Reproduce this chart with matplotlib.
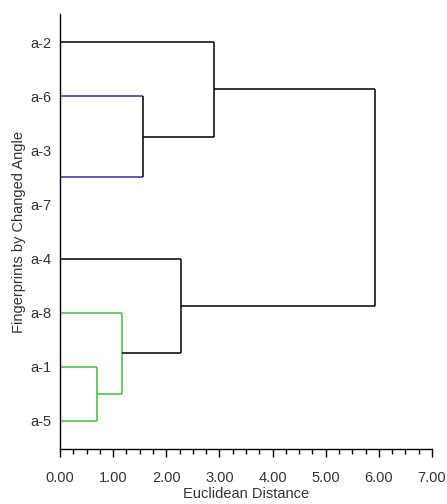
import matplotlib.pyplot as plt
from matplotlib.ticker import MultipleLocator

plt.rcParams['font.family'] = ['Liberation Sans', 'DejaVu Sans']

# leaves, top to bottom
labels = ['a-2', 'a-6', 'a-3', 'a-7', 'a-4', 'a-8', 'a-1', 'a-5']

# merges: (left child, right child, distance); children are leaf names or merge ids
merge_ids = ['m0', 'm1', 'm2', 'm3', 'm4', 'm5', 'm6']
merge_left = ['a-3', 'a-6', 'a-2', 'a-1', 'a-8', 'a-4', 'm2']
merge_right = ['a-7', 'm0', 'm1', 'a-5', 'm3', 'm4', 'm5']
merge_dist = [0.00, 1.57, 2.90, 0.70, 1.16, 2.27, 5.93]

# colours of the arms and of the vertical joint for each merge
blue = '#2e2e9a'
green = '#3fbf3f'
arm_color = [blue, blue, 'black', green, green, 'black', 'black']
joint_color = [blue, 'black', 'black', green, green, 'black', 'black']

fs = 10.5

fig = plt.figure(figsize=(4.47, 5.04), dpi=100)
ax = fig.add_axes([0.1342, 0.1091, 0.8322, 0.8631])

# node positions
pos = {lab: (0.0, i) for i, lab in enumerate(labels)}
for mid, l, r, d, ac, jc in zip(merge_ids, merge_left, merge_right, merge_dist,
                                arm_color, joint_color):
    xl, yl = pos[l]
    xr, yr = pos[r]
    ax.plot([xl, d], [yl, yl], color=ac, lw=1.1, solid_capstyle='butt')
    ax.plot([xr, d], [yr, yr], color=ac, lw=1.1, solid_capstyle='butt')
    ax.plot([d, d], [yl, yr], color=jc, lw=1.1, solid_capstyle='butt')
    pos[mid] = (d, (yl + yr) / 2)

ax.set_xlim(0, 7)
ax.set_ylim(7.52, -0.52)
ax.set_yticks(range(len(labels)))
ax.set_yticklabels(labels, fontsize=fs, color='#333333')
ax.tick_params(axis='y', length=0, pad=6)

ax.xaxis.set_major_locator(MultipleLocator(1))
ax.xaxis.set_minor_locator(MultipleLocator(0.25))
ax.set_xticklabels([f'{v:.2f}' for v in ax.get_xticks()], fontsize=fs, color='#333333')
ax.tick_params(axis='x', which='major', length=6, width=1, pad=10)
ax.tick_params(axis='x', which='minor', length=3.5, width=1)

ax.spines['top'].set_visible(False)
ax.spines['right'].set_visible(False)
ax.spines['left'].set_linewidth(1)
ax.spines['bottom'].set_linewidth(1)

ax.set_xlabel('Euclidean Distance', fontsize=fs, color='#333333', labelpad=1)
ax.set_ylabel('Fingerprints by Changed Angle', fontsize=fs, color='#333333', labelpad=3)

fig.savefig('out.png', dpi=100)
